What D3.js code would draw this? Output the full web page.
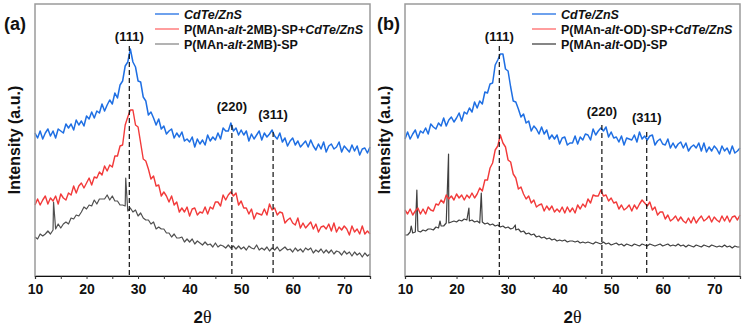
<!DOCTYPE html>
<html>
<head>
<meta charset="utf-8">
<script src="https://cdn.jsdelivr.net/npm/d3@7"></script>
<style>
  body { margin: 0; background: #fff; }
  svg text { font-family: Arial, "Liberation Sans", sans-serif; font-weight: bold; fill: #111; }
</style>
</head>
<body>
<div id="chart"></div>
<script>
// 2-theta grid (degrees), one reading every 0.5 deg
const twoTheta = d3.range(10, 75.001, 0.5);

// panel (a) intensities, a.u.
const cdteA = [
  143,138,145,137,143,147,140,145,138,147,
  145,143,152,148,152,146,156,151,155,150,
  160,157,164,158,165,163,172,165,171,176,
  172,183,178,191,195,210,214,227,214,209,
  195,194,179,175,161,164,158,151,157,147,
  150,142,145,147,138,143,139,144,135,137,
  134,139,129,137,132,136,131,141,135,139,
  136,143,137,148,145,145,153,145,148,141,
  146,141,145,135,142,137,141,145,136,143,
  139,142,146,140,137,143,134,138,130,135,
  138,131,135,129,132,135,129,136,130,126,
  132,127,134,124,130,132,127,129,134,124,
  130,127,124,131,125,130,121,127,128,123,
  129
];
const mixA = [
  71,77,71,76,80,72,78,75,80,72,
  82,78,76,83,81,90,83,90,93,88,
  93,98,91,99,98,104,101,110,105,111,
  109,120,120,130,131,151,159,166,166,151,
  149,133,117,115,107,97,100,90,91,80,
  84,80,74,80,71,74,64,68,64,69,
  60,67,68,61,64,63,69,62,69,67,
  74,74,70,81,76,81,84,80,83,71,
  75,68,68,62,67,57,63,62,61,67,
  61,72,66,68,61,64,63,53,56,58,
  53,51,58,48,53,48,51,54,47,52,
  44,49,50,47,52,45,53,44,49,46,
  50,47,41,50,44,47,42,50,42,45,
  42
];
const polyA = [
  39,37,42,40,42,45,42,46,47,52,
  48,52,54,52,58,57,61,60,64,69,
  67,71,70,76,72,77,77,77,81,76,
  80,75,75,71,71,70,65,68,64,66,
  60,63,58,56,56,52,54,47,49,47,
  47,43,43,39,42,38,38,39,34,37,
  34,37,32,35,33,31,34,31,32,29,
  33,29,31,30,28,31,28,30,27,30,
  27,29,26,30,28,27,31,26,28,26,
  29,25,28,26,29,25,27,29,26,27,
  24,28,25,27,24,28,26,28,23,26,
  24,27,23,26,23,26,22,25,24,21,
  25,22,24,20,24,21,23,19,23,20,
  22
];
const polySpikesA = [[13.6, 74], [27.6, 98]];

// panel (b) intensities, a.u.
const cdteB = [
  137,144,137,142,146,138,145,143,148,142,
  152,149,147,153,150,158,150,156,159,154,
  158,163,155,164,162,168,164,174,168,175,
  172,184,183,192,193,211,216,222,222,207,
  205,189,175,174,167,159,162,153,155,145,
  150,147,142,149,142,146,137,141,137,141,
  132,138,139,131,133,133,140,132,139,136,
  142,141,136,147,141,145,148,145,149,139,
  144,138,139,134,140,131,138,137,136,141,
  134,144,137,140,136,140,141,131,135,137,
  132,131,137,128,133,128,132,134,128,133,
  125,129,131,128,133,125,133,124,129,125,
  130,127,122,130,125,128,122,130,123,125,
  128
];
const mixB = [
  66,62,67,61,65,68,62,67,62,69,
  66,65,72,71,76,73,81,77,80,76,
  82,78,81,76,81,78,83,78,82,88,
  85,96,96,108,113,126,130,141,133,129,
  116,114,102,98,87,89,82,77,80,73,
  76,69,71,72,65,70,66,70,64,67,
  64,69,63,69,64,68,63,71,67,72,
  69,77,73,81,80,80,86,80,81,75,
  78,73,74,67,71,66,68,71,65,71,
  67,72,76,73,70,74,66,69,61,64,
  64,57,61,55,57,60,55,59,55,53,
  58,53,59,53,57,60,55,57,60,54,
  59,56,54,60,55,60,54,59,60,56,
  61
];
const polyB = [
  41,41,44,43,44,45,44,46,45,47,
  47,46,49,48,50,50,53,53,54,55,
  54,56,55,57,56,55,56,54,55,53,
  54,52,53,51,52,50,51,49,50,48,
  49,47,48,46,47,44,45,42,43,41,
  42,39,40,38,39,37,38,36,37,35,
  36,35,36,34,35,35,34,35,33,34,
  33,34,33,32,34,33,32,34,32,33,
  31,32,33,31,32,30,32,31,30,32,
  31,30,32,31,30,32,31,30,31,32,
  30,31,32,30,31,30,32,30,31,29,
  31,30,29,31,30,29,31,30,29,31,
  30,29,30,29,31,29,30,28,30,29,
  29
];
const polySpikesB = [[11.2, 50], [12.3, 86], [16.8, 55], [18.45, 122], [22.4, 68], [24.8, 83], [31.4, 51]];

// legends and reflections
const legendA = ['CdTe/ZnS', 'P(MAn-alt-2MB)-SP+CdTe/ZnS', 'P(MAn-alt-2MB)-SP'];
const legendB = ['CdTe/ZnS', 'P(MAn-alt-OD)-SP+CdTe/ZnS', 'P(MAn-alt-OD)-SP'];
const planes = ['(111)', '(220)', '(311)'];
const peaksA = [28.3, 48.2, 56.2];
const peaksB = [28.3, 48.2, 56.9];
const xTicks = d3.range(10, 75.001, 5);

const width = 745, height = 329;
const margin = { top: 4, bottom: 53 };
const plotW = 335, plotH = height - margin.top - margin.bottom;

const panels = [
  { tag: '(a)', left: 35, series: [cdteA, mixA, polyA], spikes: polySpikesA, legend: legendA,
    peaks: peaksA, dashTop: [230, 151, 144], labelAt: [235, 165, 157],
    colors: ['#1f6fe3', '#f23a3a', '#505050'], legendColors: ['#1f6fe3', '#ff6a6a', '#8a8a8a'],
    legendX: 120, tagX: 4 },
  { tag: '(b)', left: 405, series: [cdteB, mixB, polyB], spikes: polySpikesB, legend: legendB,
    peaks: peaksB, dashTop: [230, 151, 144], labelAt: [235, 160, 154],
    colors: ['#1f6fe3', '#f23a3a', '#404040'], legendColors: ['#1f6fe3', '#ff6a6a', '#444'],
    legendX: 127, tagX: 377 }
];
const strokeW = [1.5, 1.4, 1.2];

const svg = d3.select('#chart').append('svg')
  .attr('width', width)
  .attr('height', height);

const yScale = d3.scaleLinear().domain([0, 272]).range([plotH, 0]);

panels.forEach(p => {
  const xScale = d3.scaleLinear().domain([10, 75]).range([0, plotW]);
  const g = svg.append('g').attr('transform', `translate(${p.left},${margin.top})`);

  const line = d3.line()
    .x(d => xScale(d[0]))
    .y(d => yScale(d[1]));

  // grey first, then red, blue last
  p.series.slice().reverse().forEach((vals, ri) => {
    const i = p.series.length - 1 - ri;
    let pts = twoTheta.map((t, k) => [t, vals[k]]);
    if (i === 2) pts = pts.concat(p.spikes).sort((a, b) => a[0] - b[0]);
    g.append('path')
      .datum(pts)
      .attr('fill', 'none')
      .attr('stroke', p.colors[i])
      .attr('stroke-width', strokeW[i])
      .attr('stroke-linejoin', 'round')
      .attr('d', line);
  });

  // dashed reflection markers
  g.selectAll('.peak')
    .data(p.peaks)
    .join('line')
    .attr('class', 'peak')
    .attr('x1', d => xScale(d))
    .attr('x2', d => xScale(d))
    .attr('y1', (d, i) => yScale(p.dashTop[i]))
    .attr('y2', plotH)
    .attr('stroke', '#111')
    .attr('stroke-width', 1.2)
    .attr('stroke-dasharray', '5,3');

  g.selectAll('.plane')
    .data(planes)
    .join('text')
    .attr('class', 'plane')
    .attr('x', (d, i) => xScale(p.peaks[i]))
    .attr('y', (d, i) => yScale(p.labelAt[i]))
    .attr('text-anchor', 'middle')
    .style('font-size', '13px')
    .text(d => d);

  // frame
  g.append('rect')
    .attr('width', plotW)
    .attr('height', plotH)
    .attr('fill', 'none')
    .attr('stroke', '#9a9a9a')
    .attr('stroke-width', 1.5);

  const xAxis = d3.axisBottom(xScale)
    .tickValues(xTicks)
    .tickSize(3)
    .tickFormat(d => d % 10 === 0 && d < 75 ? d : '');

  const ax = g.append('g')
    .attr('transform', `translate(0,${plotH})`)
    .call(xAxis);
  ax.select('.domain').attr('stroke', '#111').attr('stroke-width', 1.2);
  ax.selectAll('.tick line').attr('stroke', '#333');
  ax.selectAll('text')
    .attr('y', 8)
    .style('font-size', '14px')
    .style('font-family', 'Arial, "Liberation Sans", sans-serif')
    .style('font-weight', 'bold')
    .attr('fill', '#111');

  // axis titles
  const xt = g.append('text')
    .attr('x', plotW / 2)
    .attr('y', plotH + 47)
    .attr('text-anchor', 'middle')
    .style('font-size', '17px');
  xt.append('tspan').text('2');
  xt.append('tspan')
    .style('font-family', '"Liberation Serif", "Times New Roman", serif')
    .style('font-weight', 'normal')
    .style('font-size', '18px')
    .text('θ');

  svg.append('text')
    .attr('transform', `translate(${p.left - 15},${margin.top + plotH / 2}) rotate(-90)`)
    .attr('text-anchor', 'middle')
    .style('font-size', '16px')
    .text('Intensity (a.u.)');

  svg.append('text')
    .attr('x', p.tagX)
    .attr('y', 30)
    .style('font-size', '18px')
    .text(p.tag);

  // legend
  const leg = g.selectAll('.leg')
    .data(p.legend)
    .join('g')
    .attr('class', 'leg')
    .attr('transform', (d, i) => `translate(${p.legendX},${10 + i * 15})`);

  leg.append('line')
    .attr('x1', 0).attr('x2', 24)
    .attr('stroke', (d, i) => p.legendColors[i])
    .attr('stroke-width', 1.3);

  leg.append('text')
    .attr('x', 29)
    .attr('y', 4.5)
    .style('font-size', '12.5px')
    .each(function (d) {
      const t = d3.select(this);
      d.split(/(alt|CdTe\/ZnS)/).filter(s => s.length).forEach(s => {
        t.append('tspan')
          .style('font-style', s === 'alt' || s === 'CdTe/ZnS' ? 'italic' : 'normal')
          .text(s);
      });
    });
});
</script>
</body>
</html>
